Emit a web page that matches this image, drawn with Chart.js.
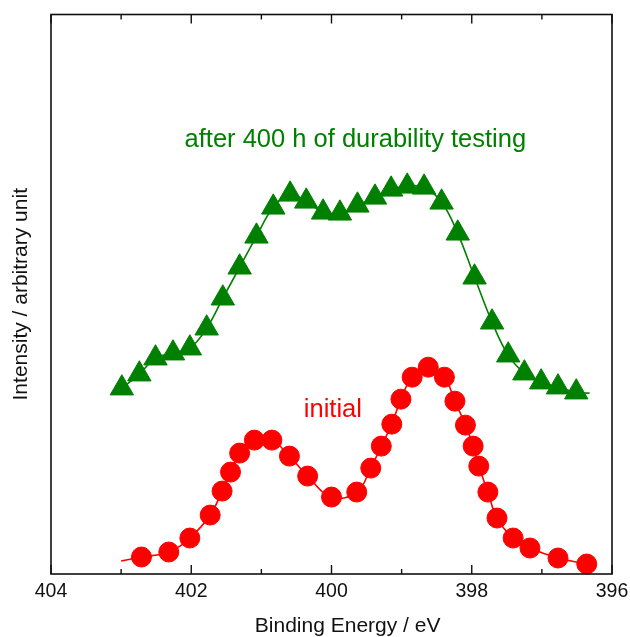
<!DOCTYPE html>
<html>
<head>
<meta charset="utf-8">
<script src="https://cdn.jsdelivr.net/npm/chart.js@4/dist/chart.umd.min.js"></script>
<style>
  html, body { margin: 0; padding: 0; background: #fff; }
  #wrap { width: 630px; height: 637px; }
</style>
</head>
<body>
<div id="wrap"><canvas id="c" width="630" height="637"></canvas></div>
<script>
// N 1s spectrum, binding energy (eV) and intensity (arbitrary units)
// The initial curve starts one step before its first marker.
const energyInitial = [403.00, 402.71, 402.32, 402.02, 401.73, 401.56, 401.44, 401.31, 401.10, 400.85,
                       400.60, 400.34, 400.00, 399.64, 399.44, 399.29, 399.14, 399.01, 398.85, 398.62,
                       398.39, 398.24, 398.09, 397.98, 397.90, 397.77, 397.64, 397.41, 397.17, 396.77, 396.36];
const intensityInitial = [13, 17, 22, 36, 59, 83, 102, 121, 134, 134,
                          118, 98, 77, 82, 106, 128, 150, 175, 197, 207,
                          197, 173, 149, 128, 108, 82, 56, 36, 26, 16, 10];

// After 400 h; the curve runs one step past its last marker.
const energyAfter = [402.99, 402.74, 402.51, 402.26, 402.02, 401.78, 401.55, 401.31, 401.07, 400.83,
                     400.59, 400.36, 400.12, 399.88, 399.63, 399.38, 399.15, 398.92, 398.68, 398.43,
                     398.20, 397.96, 397.71, 397.48, 397.25, 397.01, 396.77, 396.51, 396.32];
const intensityAfter = [186, 200, 216, 221, 226, 246, 276, 307, 338, 367,
                        380, 373, 362, 361, 369, 377, 385, 388, 387, 372,
                        341, 297, 252, 219, 201, 192, 187, 182, 181];

const energyRange = [396, 404];
const intensityRange = [0, 560];
const xTitle = 'Binding Energy / eV';
const yTitle = 'Intensity / arbitrary unit';
const labelAfter = 'after 400 h of durability testing';
const labelInitial = 'initial';

const FONT = '"Liberation Sans", Arial, Helvetica, sans-serif';
const GREEN = '#008000';
const RED = '#ff0000';
const INK = '#111';

const toPoints = (xs, ys) => xs.map((x, i) => ({ x, y: ys[i] }));

// Box around the plot with inward ticks on top and bottom edges
const framePlugin = {
  id: 'frame',
  afterDatasetsDraw(chart) {
    const { ctx, chartArea: a, scales: { x } } = chart;
    ctx.save();
    ctx.strokeStyle = INK;
    ctx.lineWidth = 1.6;
    ctx.strokeRect(a.left, a.top, a.right - a.left, a.bottom - a.top);
    ctx.lineWidth = 1.4;
    for (let v = x.min; v <= x.max; v += 1) {
      const px = x.getPixelForValue(v);
      const len = (v % 2 === 0) ? 9 : 5;
      ctx.beginPath();
      ctx.moveTo(px, a.bottom); ctx.lineTo(px, a.bottom - len);
      ctx.moveTo(px, a.top); ctx.lineTo(px, a.top + len);
      ctx.stroke();
    }
    ctx.restore();
  }
};

// Captions placed along the energy axis; y is a data value or a pixel drop below the plot
const captionPlugin = {
  id: 'captions',
  afterDatasetsDraw(chart, args, opts) {
    const { ctx, chartArea: a, scales: { x, y } } = chart;
    ctx.save();
    ctx.textAlign = 'center';
    ctx.textBaseline = 'alphabetic';
    for (const c of opts.items) {
      ctx.font = `${c.size}px ${FONT}`;
      ctx.fillStyle = c.color;
      const py = c.below !== undefined ? a.bottom + c.below : y.getPixelForValue(c.y);
      ctx.fillText(c.text, x.getPixelForValue(c.x), py);
    }
    ctx.restore();
  }
};

new Chart(document.getElementById('c'), {
  type: 'line',
  data: {
    datasets: [
      {
        label: labelAfter,
        data: toPoints(energyAfter, intensityAfter),
        borderColor: GREEN,
        backgroundColor: GREEN,
        borderWidth: 1.6,
        tension: 0.4,
        pointStyle: 'triangle',
        pointRadius: (c) => c.dataIndex === energyAfter.length - 1 ? 0 : 13.5,
        pointBorderWidth: 1,
        pointBorderColor: GREEN,
        pointBackgroundColor: GREEN,
        clip: false
      },
      {
        label: labelInitial,
        data: toPoints(energyInitial, intensityInitial),
        borderColor: RED,
        backgroundColor: RED,
        borderWidth: 1.6,
        tension: 0.4,
        pointStyle: 'circle',
        pointRadius: (c) => c.dataIndex === 0 ? 0 : 10,
        pointBorderWidth: 1,
        pointBorderColor: RED,
        pointBackgroundColor: RED,
        clip: false
      }
    ]
  },
  options: {
    responsive: false,
    animation: false,
    devicePixelRatio: 1,
    events: [],
    layout: { padding: { top: 14, right: 18, left: 0, bottom: 0 } },
    plugins: {
      legend: { display: false },
      tooltip: { enabled: false },
      captions: {
        items: [
          { text: labelAfter, color: GREEN, size: 25.5, x: 399.66, y: 427 },
          { text: labelInitial, color: RED, size: 25.5, x: 399.98, y: 157 },
          { text: xTitle, color: INK, size: 21, x: 399.77, below: 58 }
        ]
      }
    },
    scales: {
      x: {
        type: 'linear',
        reverse: true,
        min: energyRange[0],
        max: energyRange[1],
        grid: { display: false, drawTicks: false },
        border: { display: false },
        ticks: {
          stepSize: 2,
          padding: 6,
          color: INK,
          font: { family: FONT, size: 19.5 }
        },
        afterFit: (s) => { s.height = 63; s.paddingLeft = 0; s.paddingRight = 0; }
      },
      y: {
        min: intensityRange[0],
        max: intensityRange[1],
        grid: { display: false, drawTicks: false },
        border: { display: false },
        ticks: { display: false },
        title: {
          display: true,
          text: yTitle,
          color: INK,
          font: { family: FONT, size: 21 },
          padding: { top: 9, bottom: 0 }
        },
        afterFit: (s) => { s.width = 51; }
      }
    }
  },
  plugins: [framePlugin, captionPlugin]
});
</script>
</body>
</html>
